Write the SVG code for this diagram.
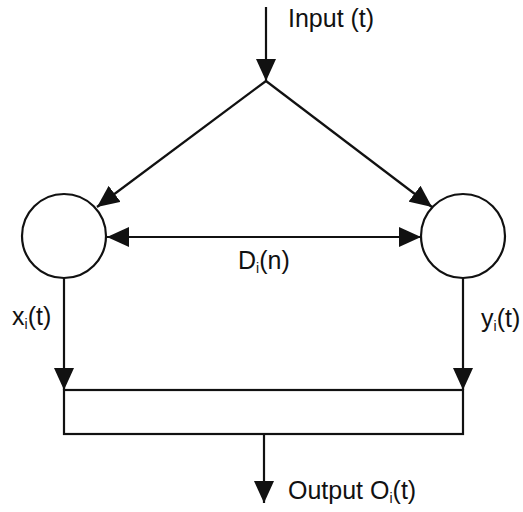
<svg xmlns="http://www.w3.org/2000/svg" width="523" height="512" viewBox="0 0 523 512">
<defs>
<style>
.ln{fill:none;stroke:#111;stroke-width:2.2}
.nd{fill:#fff;stroke:#111;stroke-width:2.2}
.tx{font-family:"Liberation Sans",Arial,sans-serif;font-size:25px;fill:#111}
.sb{font-size:14px}
</style>
<marker id="ah" viewBox="0 0 22 20" refX="22" refY="10" markerWidth="22" markerHeight="20" markerUnits="userSpaceOnUse" orient="auto-start-reverse">
<path d="M0,0 L22,10 L0,20 Z" fill="#111"/>
</marker>
</defs>
<rect width="523" height="512" fill="#fff"/>
<g id="connectors">
<line class="ln" x1="266" y1="7" x2="266" y2="81" marker-end="url(#ah)"/>
<line class="ln" x1="266" y1="81" x2="97" y2="207" marker-end="url(#ah)"/>
<line class="ln" x1="266" y1="81" x2="432" y2="207" marker-end="url(#ah)"/>
<line class="ln" x1="107" y1="237" x2="421" y2="237" marker-start="url(#ah)" marker-end="url(#ah)"/>
<line class="ln" x1="64" y1="278" x2="64" y2="390" marker-end="url(#ah)"/>
<line class="ln" x1="463" y1="278" x2="463" y2="390" marker-end="url(#ah)"/>
<line class="ln" x1="264" y1="434" x2="264" y2="503" marker-end="url(#ah)"/>
</g>
<g id="node-x">
<circle class="nd" cx="64" cy="236" r="42"/>
</g>
<g id="node-y">
<circle class="nd" cx="463" cy="236" r="42"/>
</g>
<g id="node-combiner">
<rect class="ln" x="64" y="390" width="399" height="44"/>
</g>
<g id="labels">
<text class="tx" x="288" y="27">Input (t)</text>
<text class="tx" x="238" y="269">D<tspan class="sb" dy="4">i</tspan><tspan dy="-4">(n)</tspan></text>
<text class="tx" x="12" y="325">x<tspan class="sb" dy="4">i</tspan><tspan dy="-4">(t)</tspan></text>
<text class="tx" x="481" y="327">y<tspan class="sb" dy="4">i</tspan><tspan dy="-4">(t)</tspan></text>
<text class="tx" x="288" y="499">Output O<tspan class="sb" dy="4">i</tspan><tspan dy="-4">(t)</tspan></text>
</g>
</svg>
